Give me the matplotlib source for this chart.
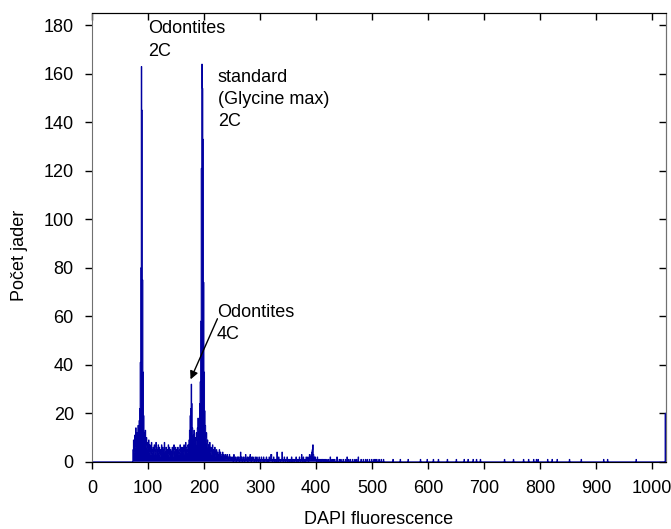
import matplotlib
matplotlib.use("Agg")
import matplotlib.pyplot as plt
import numpy as np

plt.rcParams['font.family'] = ['Liberation Sans', 'DejaVu Sans']
plt.rcParams['font.size'] = 13

# channel counts, 1024-channel DAPI histogram
first_channel = 70
main_counts = [
    0, 0, 0, 5, 9, 4, 11, 6, 14, 8,          # 70
    12, 9, 15, 10, 17, 22, 41, 80, 163, 145,  # 80
    75, 37, 19, 12, 9, 13, 7, 10, 6, 8,       # 90
    5, 9, 4, 7, 6, 3, 8, 5, 4, 6,             # 100
    3, 7, 5, 4, 8, 6, 3, 5, 7, 4,             # 110
    6, 3, 5, 2, 7, 4, 6, 3, 5, 8,             # 120
    4, 2, 6, 3, 5, 4, 7, 3, 6, 2,             # 130
    5, 4, 3, 6, 2, 5, 7, 3, 4, 6,             # 140
    3, 5, 2, 6, 4, 3, 5, 7, 4, 6,             # 150
    5, 3, 6, 4, 7, 5, 3, 8, 6, 5,             # 160
    4, 7, 6, 9, 13, 19, 22, 32, 24, 14,       # 170
    11, 9, 13, 8, 10, 7, 12, 9, 14, 18,       # 180
    13, 17, 24, 33, 58, 121, 164, 154, 133, 74,  # 190
    37, 21, 15, 10, 12, 8, 9, 6, 7, 5,        # 200
    8, 4, 6, 5, 3, 7, 4, 5, 3, 6,             # 210
    4, 2, 5, 3, 4, 2, 3, 5, 2, 4,             # 220
    3, 1, 2, 4, 2, 3, 1, 2, 3, 1,             # 230
    2, 3, 1, 2, 1, 3, 2, 1, 2, 1,             # 240
    1, 2, 0, 3, 1, 1, 2, 0, 1, 2,             # 250
    1, 2, 2, 0, 1, 4, 1, 2, 0, 1,             # 260
    2, 1, 0, 2, 3, 1, 1, 2, 0, 1,             # 270
    2, 1, 3, 1, 0, 2, 1, 2, 1, 0,             # 280
    1, 2, 1, 0, 2, 1, 1, 0, 2, 1,             # 290
    1, 0, 2, 1, 1, 0, 2, 1, 0, 1,             # 300
    1, 2, 0, 1, 1, 0, 2, 1, 1, 3,             # 310
    3, 1, 0, 1, 2, 1, 0, 1, 1, 0,             # 320
    4, 1, 0, 2, 1, 1, 0, 1, 1, 4,             # 330
    1, 0, 1, 2, 1, 0, 1, 1, 2, 0,             # 340
    1, 1, 0, 1, 1, 0, 2, 1, 0, 1,             # 350
    1, 0, 1, 1, 2, 0, 1, 1, 0, 1,             # 360
    2, 1, 0, 1, 3, 1, 0, 2, 1, 0,             # 370
    1, 0, 2, 1, 1, 2, 0, 1, 3, 1,             # 380
    2, 3, 4, 5, 7, 3, 2, 1, 2, 1,             # 390
    1, 0, 2, 1, 0, 1, 1, 0, 1, 1,             # 400
    0, 1, 1, 0, 1, 0, 1, 0, 0, 1,             # 410
]

# sparse counts above channel 420 (last channel collects overflow)
tail_channels = [422, 425, 428, 430, 433, 437, 441, 444, 448, 452, 455, 458,
                 461, 465, 469, 472, 475, 480, 484, 488, 491, 495, 499, 503,
                 505, 508, 512, 516, 520, 537, 550, 564, 586, 598, 609, 618,
                 634, 650, 664, 671, 680, 686, 693, 736, 752, 770, 779, 788,
                 793, 796, 813, 821, 830, 852, 873, 913, 920, 971, 1023]
tail_counts = [1, 2, 1, 1, 1, 2, 1, 1, 1, 1, 2, 1,
               1, 1, 1, 1, 2, 1, 1, 1, 1, 1, 1, 1,
               1, 1, 1, 1, 1, 1, 1, 1, 1, 1, 1, 1,
               1, 1, 1, 1, 1, 1, 1, 1, 1, 1, 1, 1,
               1, 1, 1, 1, 1, 1, 1, 1, 1, 1, 20]

x_ticks = list(range(0, 1001, 100))
y_ticks = list(range(0, 181, 20))

n_channels = 1024
counts = np.zeros(n_channels)
counts[first_channel:first_channel + len(main_counts)] = main_counts
counts[tail_channels] = tail_counts

blue = '#0000a0'
grey = '#707070'

fig = plt.figure(figsize=(6.71, 5.29), dpi=100)
ax = fig.add_axes([0.137, 0.127, 0.855, 0.848])

ax.stairs(counts, np.arange(n_channels + 1), fill=True, color=blue,
          edgecolor=blue, linewidth=0.7)

ax.set_xlim(0, n_channels)
ax.set_ylim(0, 185)
ax.set_xticks(x_ticks)
ax.set_yticks(y_ticks)
ax.tick_params(direction='out', length=5, width=1, pad=8, colors='black')

ax.spines['left'].set_color(grey)
ax.spines['right'].set_color(grey)
ax.spines['top'].set_color('black')
ax.spines['bottom'].set_color('black')

# inward ticks on the top and right frame
top = ax.secondary_xaxis('top')
top.set_xticks(x_ticks)
top.tick_params(direction='in', length=5, width=1, labeltop=False)
top.spines['top'].set_color('black')
right = ax.secondary_yaxis('right')
right.set_yticks(y_ticks)
right.tick_params(direction='in', length=5, width=1, labelright=False)
right.spines['right'].set_color(grey)

ax.set_xlabel('DAPI fluorescence')
ax.set_ylabel('Počet jader')
ax.xaxis.set_label_coords(0.5, -0.11)
ax.yaxis.set_label_coords(-0.112, 0.46)

ax.text(100, 182, 'Odontites\n2C', ha='left', va='top', linespacing=1.4)
ax.text(225, 162, 'standard\n(Glycine max)\n2C', ha='left', va='top',
        linespacing=1.4)
ax.text(223, 65, 'Odontites\n4C', ha='left', va='top', linespacing=1.4)
ax.annotate('', xy=(176, 34), xytext=(224, 59),
            arrowprops=dict(arrowstyle='-|>', color='black', lw=1,
                            shrinkA=0, shrinkB=0, mutation_scale=12))

fig.savefig('out.png', dpi=100)
